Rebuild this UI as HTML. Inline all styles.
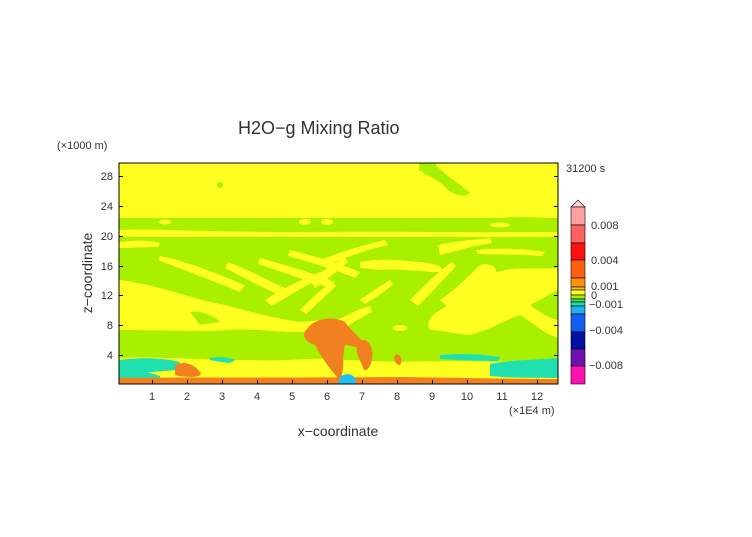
<!DOCTYPE html>
<html><head><style>
body{margin:0;background:#fff;}
svg text{font-family:"Liberation Sans",sans-serif;fill:#333;}
</style></head><body>
<svg width="752" height="532" viewBox="0 0 752 532" xmlns="http://www.w3.org/2000/svg">
<defs><clipPath id="c"><rect x="119" y="163" width="439" height="221"/></clipPath></defs>
<g clip-path="url(#c)">
<rect x="119" y="163" width="439" height="221" fill="#a8f000"/>
<!-- top yellow -->
<path d="M119 163 H558 V218 C540 218 520 216 500 218 H119Z" fill="#ffff20"/>
<path d="M419 163 H435 C440 172 455 180 470 193 C465 198 455 195 448 190 C440 180 425 175 419 170Z" fill="#a8f000"/>
<circle cx="220" cy="185" r="3" fill="#a8f000"/>
<path d="M119 230 C150 228 200 232 300 232 C400 231 500 233 558 232 V237 H119Z" fill="#ffff20"/>
<ellipse cx="165" cy="222" rx="6" ry="2.5" fill="#ffff20"/><ellipse cx="305" cy="222" rx="6" ry="3" fill="#ffff20"/><ellipse cx="327" cy="222" rx="6" ry="3" fill="#ffff20"/><ellipse cx="500" cy="225" rx="10" ry="2.5" fill="#ffff20"/>
<!-- diagonal streaks -->
<path d="M160 256 C190 262 220 275 245 285 L240 292 C215 282 185 270 158 260Z" fill="#ffff20"/>
<path d="M228 262 C250 270 270 282 290 290 L285 297 C262 288 245 278 225 268Z" fill="#ffff20"/>
<path d="M260 258 C285 265 310 272 335 282 L330 288 C305 280 282 272 258 264Z" fill="#ffff20"/>
<path d="M290 250 C310 255 335 262 360 272 L355 278 C330 268 310 262 288 256Z" fill="#ffff20"/>
<path d="M310 280 C325 270 335 262 345 258 L348 262 C338 270 325 282 315 288Z" fill="#ffff20"/>
<path d="M320 260 C340 252 360 246 385 240 L388 245 C365 250 345 258 325 266Z" fill="#ffff20"/>
<path d="M360 262 C380 258 400 260 420 262 C440 264 445 268 440 272 C420 272 400 268 380 270 L360 268Z" fill="#ffff20"/>
<path d="M265 300 C280 290 300 280 320 272 L325 276 C305 286 285 298 272 306Z" fill="#ffff20"/>
<path d="M300 310 C310 300 320 290 332 282 L336 286 C325 296 315 306 306 314Z" fill="#ffff20"/>
<path d="M360 300 C372 292 380 286 390 280 L393 284 C385 292 375 298 365 304Z" fill="#ffff20"/>
<path d="M410 300 C425 285 440 270 452 262 L456 266 C445 278 432 292 418 306Z" fill="#ffff20"/>
<path d="M440 300 C455 290 470 275 480 265 C490 262 500 268 495 276 C485 290 475 305 462 320Z" fill="#ffff20"/>
<path d="M440 310 C455 300 470 285 490 275 C510 265 530 270 558 268 V338 C540 332 530 320 520 315 C505 320 490 330 470 335 C455 334 440 330 430 330 C425 322 432 315 440 310Z" fill="#ffff20"/>
<path d="M530 305 C540 300 548 295 558 290 V320 C548 318 540 312 530 305Z" fill="#a8f000"/>
<path d="M438 245 C460 240 475 240 490 238 L492 243 C470 246 455 252 440 255Z" fill="#ffff20"/>
<path d="M476 250 C500 248 520 248 545 252 L542 256 C520 254 500 255 478 254Z" fill="#ffff20"/>
<path d="M119 242 C135 240 150 240 160 243 L158 247 C145 247 130 248 119 248Z" fill="#ffff20"/>
<!-- left lower yellow -->
<path d="M119 280 C140 282 160 288 185 295 C200 300 210 302 225 305 C245 310 270 318 300 322 C320 320 330 320 345 318 C335 325 330 330 310 332 C280 333 250 328 230 330 C200 332 160 330 119 330Z" fill="#ffff20"/>
<path d="M190 312 C200 310 215 316 220 322 L200 325 Z" fill="#a8f000"/>
<path d="M330 326 C340 318 355 310 370 306 L372 312 C360 318 350 325 340 330Z" fill="#ffff20"/>
<ellipse cx="300" cy="327" rx="8" ry="4" fill="#ffff20"/>
<ellipse cx="400" cy="328" rx="7" ry="3" fill="#ffff20"/>
<!-- lower -->
<path d="M119 358 C150 356 200 360 250 360 C290 362 320 356 345 360 L400 362 C440 360 500 362 558 362 V384 H119Z" fill="#ffff20"/>
<path d="M119 360 C140 357 165 358 180 362 L178 370 C150 372 135 374 119 374Z" fill="#20e0b0"/>
<path d="M440 355 C460 353 480 354 500 357 L498 361 C478 361 460 360 440 359Z" fill="#20e0b0"/>
<path d="M490 364 C510 360 535 360 558 358 V378 C530 378 510 378 490 376Z" fill="#20e0b0"/>
<path d="M119 372 C135 370 150 372 160 376 L160 384 H119Z" fill="#20e0b0"/>
<path d="M210 358 C220 356 230 358 235 360 L230 363 C220 362 215 361 210 360Z" fill="#20e0b0"/>
<!-- plume -->
<path d="M308 328 C315 318 335 316 345 322 C352 332 362 338 366 348 C362 350 352 345 345 345 C342 355 345 370 340 380 C330 370 320 355 315 345 C305 342 300 335 308 328Z" fill="#f08020"/>
<path d="M357 345 C362 336 370 340 372 350 C374 362 368 372 364 370 C362 362 355 355 357 345Z" fill="#f08020"/>
<path d="M395 355 C400 352 403 360 400 365 C396 365 393 360 395 355Z" fill="#f08020"/>
<path d="M175 365 C185 360 195 365 200 372 C205 378 185 378 175 375Z" fill="#f08020"/>
<path d="M119 378 C200 377 300 378 400 377 C470 378 520 379 558 379 V384 H119Z" fill="#f08020"/>
<path d="M340 377 C345 373 352 373 355 378 L356 384 H338Z" fill="#20c0f0"/>
</g>
<rect x="119" y="163" width="439" height="221" fill="none" stroke="#000" stroke-width="1"/>
<g stroke="#000" stroke-width="1">
<path d="M152.5 384v-4M187.5 384v-4M222.5 384v-4M257.5 384v-4M292.5 384v-4M327.5 384v-4M362.5 384v-4M397.5 384v-4M432.5 384v-4M467.5 384v-4M502.5 384v-4M537.5 384v-4"/>
<path d="M119 355.5h4M119 325.5h4M119 295.5h4M119 266.5h4M119 236.5h4M119 206.5h4M119 176.5h4"/>
<path d="M558 355.5h-4M558 325.5h-4M558 295.5h-4M558 266.5h-4M558 236.5h-4M558 206.5h-4M558 176.5h-4"/>
</g>
<g font-size="11" text-anchor="middle">
<text x="152" y="400">1</text><text x="187" y="400">2</text><text x="222" y="400">3</text><text x="257" y="400">4</text><text x="292" y="400">5</text><text x="327" y="400">6</text><text x="362" y="400">7</text><text x="397" y="400">8</text><text x="432" y="400">9</text><text x="467" y="400">10</text><text x="502" y="400">11</text><text x="537" y="400">12</text>
</g>
<g font-size="11" text-anchor="end">
<text x="113" y="359">4</text><text x="113" y="329">8</text><text x="113" y="299">12</text><text x="113" y="270">16</text><text x="113" y="240">20</text><text x="113" y="210">24</text><text x="113" y="180">28</text>
</g>
<text x="238" y="134" font-size="18">H2O−g Mixing Ratio</text>
<text x="57" y="149" font-size="11">(×1000 m)</text>
<text x="566" y="172" font-size="11" fill="#666">31200 s</text>
<text x="509" y="414" font-size="11">(×1E4 m)</text>
<text x="338" y="436" font-size="14" text-anchor="middle">x−coordinate</text>
<text x="92" y="273" font-size="14" text-anchor="middle" transform="rotate(-90 92 273)">z−coordinate</text>
<g stroke="#000" stroke-width="0.6">
<path d="M571 207 L578 200 L585 207Z" fill="#ffd0d0"/>
<rect x="571" y="207" width="14" height="18" fill="#ffa0a0"/>
<rect x="571" y="225" width="14" height="18" fill="#ff6060"/>
<rect x="571" y="243" width="14" height="17" fill="#ff1010"/>
<rect x="571" y="260" width="14" height="18" fill="#ff6010"/>
<rect x="571" y="278" width="14" height="9" fill="#ff9010"/>
<rect x="571" y="287" width="14" height="3" fill="#ffc020"/>
<rect x="571" y="290" width="14" height="5" fill="#ffff20"/>
<rect x="571" y="295" width="14" height="4" fill="#a8f000"/>
<rect x="571" y="299" width="14" height="3" fill="#40e060"/>
<rect x="571" y="302" width="14" height="4" fill="#20e0b0"/>
<rect x="571" y="306" width="14" height="8" fill="#20b0f0"/>
<rect x="571" y="314" width="14" height="18" fill="#1060f0"/>
<rect x="571" y="332" width="14" height="17" fill="#0010a0"/>
<rect x="571" y="349" width="14" height="17" fill="#7010b0"/>
<rect x="571" y="366" width="14" height="18" fill="#ff10b0"/>
</g>
<g font-size="11">
<text x="591" y="229">0.008</text><text x="591" y="264">0.004</text><text x="591" y="290">0.001</text><text x="591" y="299">0</text><text x="589" y="308">−0.001</text><text x="589" y="334">−0.004</text><text x="589" y="369">−0.008</text>
</g>
</svg>
</body></html>
